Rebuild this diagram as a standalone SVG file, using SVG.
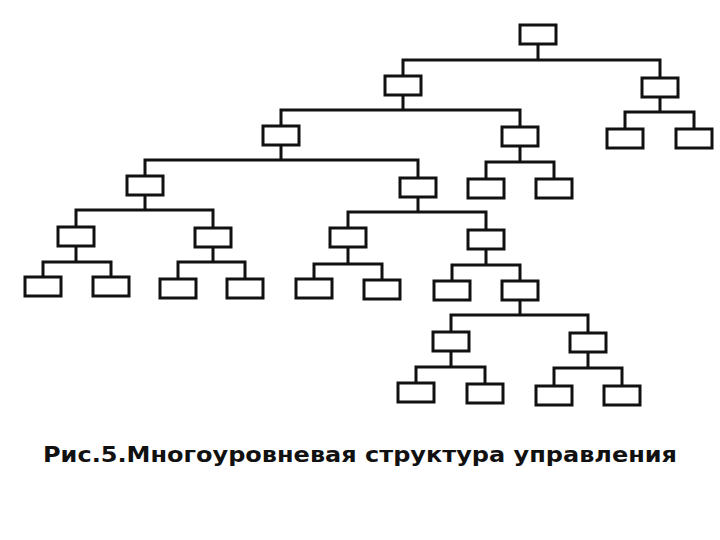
<svg xmlns="http://www.w3.org/2000/svg" width="720" height="540" viewBox="0 0 720 540">
<style>
.b{fill:#fff;stroke:#111;stroke-width:3}
.c{fill:none;stroke:#111;stroke-width:3;stroke-linecap:square}
.t{font-family:"DejaVu Sans",Verdana,sans-serif;font-weight:bold;font-size:22px;fill:#111}
</style>
<rect width="720" height="540" fill="#fff"/>
<g id="connectors" class="c">
<path d="M538 44V60M403 60H660M403 60V76M660 60V78"/>
<path d="M660 97V112M625 112H694M625 112V129M694 112V129"/>
<path d="M403 95V110M281 110H520M281 110V126M520 110V127"/>
<path d="M281 145V160M145 160H418M145 160V176M418 160V178"/>
<path d="M520 146V162M486 162H554M486 162V179M554 162V179"/>
<path d="M145 195V210M76 210H213M76 210V227M213 210V228"/>
<path d="M76 246V262M43 262H111M43 262V277M111 262V277"/>
<path d="M213 247V262M178 262H245M178 262V279M245 262V279"/>
<path d="M418 197V212M348 212H486M348 212V228M486 212V230"/>
<path d="M348 247V264M314 264H382M314 264V279M382 264V280"/>
<path d="M486 249V265M452 265H520M452 265V281M520 265V281"/>
<path d="M520 300V315M451 315H588M451 315V332M588 315V333"/>
<path d="M451 351V367M416 367H485M416 367V383M485 367V384"/>
<path d="M588 352V368M554 368H622M554 368V386M622 368V386"/>
</g>
<g id="n0"><rect class="b" x="520" y="25" width="36" height="19"/></g>
<g id="n1"><rect class="b" x="385" y="76" width="36" height="19"/></g>
<g id="n2"><rect class="b" x="642" y="78" width="36" height="19"/></g>
<g id="n3"><rect class="b" x="607" y="129" width="36" height="19"/></g>
<g id="n4"><rect class="b" x="676" y="129" width="36" height="19"/></g>
<g id="n5"><rect class="b" x="263" y="126" width="36" height="19"/></g>
<g id="n6"><rect class="b" x="502" y="127" width="36" height="19"/></g>
<g id="n7"><rect class="b" x="127" y="176" width="36" height="19"/></g>
<g id="n8"><rect class="b" x="400" y="178" width="36" height="19"/></g>
<g id="n9"><rect class="b" x="468" y="179" width="36" height="19"/></g>
<g id="n10"><rect class="b" x="536" y="179" width="36" height="19"/></g>
<g id="n11"><rect class="b" x="58" y="227" width="36" height="19"/></g>
<g id="n12"><rect class="b" x="195" y="228" width="36" height="19"/></g>
<g id="n13"><rect class="b" x="25" y="277" width="36" height="19"/></g>
<g id="n14"><rect class="b" x="93" y="277" width="36" height="19"/></g>
<g id="n15"><rect class="b" x="160" y="279" width="36" height="19"/></g>
<g id="n16"><rect class="b" x="227" y="279" width="36" height="19"/></g>
<g id="n17"><rect class="b" x="330" y="228" width="36" height="19"/></g>
<g id="n18"><rect class="b" x="468" y="230" width="36" height="19"/></g>
<g id="n19"><rect class="b" x="296" y="279" width="36" height="19"/></g>
<g id="n20"><rect class="b" x="364" y="280" width="36" height="19"/></g>
<g id="n21"><rect class="b" x="434" y="281" width="36" height="19"/></g>
<g id="n22"><rect class="b" x="502" y="281" width="36" height="19"/></g>
<g id="n23"><rect class="b" x="433" y="332" width="36" height="19"/></g>
<g id="n24"><rect class="b" x="570" y="333" width="36" height="19"/></g>
<g id="n25"><rect class="b" x="398" y="383" width="36" height="19"/></g>
<g id="n26"><rect class="b" x="467" y="384" width="36" height="19"/></g>
<g id="n27"><rect class="b" x="536" y="386" width="36" height="19"/></g>
<g id="n28"><rect class="b" x="604" y="386" width="36" height="19"/></g>
<text class="t" x="43" y="462" textLength="634" lengthAdjust="spacingAndGlyphs">Рис.5.Многоуровневая структура управления</text>
</svg>
